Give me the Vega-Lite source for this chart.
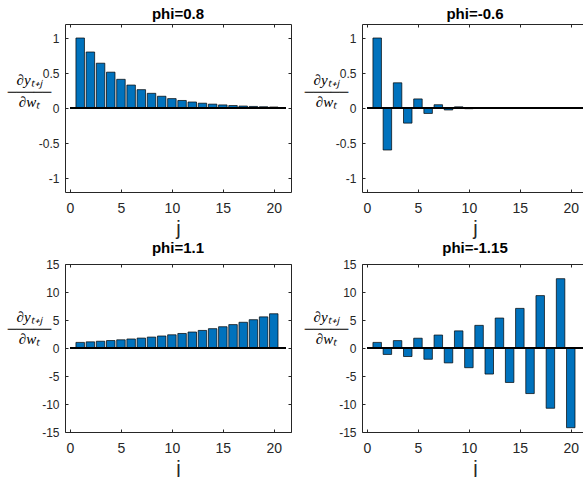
{
  "$schema": "https://vega.github.io/schema/vega-lite/v6.json",
  "padding": {"left": 6, "top": 6, "right": 0, "bottom": 0},
  "background": "#ffffff",
  "config": {
    "view": {"stroke": "#262626", "strokeWidth": 1},
    "axis": {"domain": false, "grid": false, "tickColor": "#262626", "tickSize": -3, "tickWidth": 1, "labelColor": "#262626", "labelFont": "Liberation Sans", "titleColor": "#262626", "titleFont": "Liberation Sans", "titleFontWeight": "normal"},
    "axisX": {"labelFontSize": 14, "labelPadding": 12, "labelBaseline": "top", "titleFontSize": 20, "titlePadding": 3},
    "axisY": {"labelFontSize": 12, "labelPadding": 9},
    "title": {"font": "Liberation Sans", "fontSize": 15, "fontWeight": "bold", "color": "#000000", "offset": 2, "anchor": "middle"}
  },
  "datasets": {
    "a": [{"j":1,"v":1},{"j":2,"v":0.8},{"j":3,"v":0.64},{"j":4,"v":0.512},{"j":5,"v":0.4096},{"j":6,"v":0.3277},{"j":7,"v":0.2621},{"j":8,"v":0.2097},{"j":9,"v":0.1678},{"j":10,"v":0.1342},{"j":11,"v":0.1074},{"j":12,"v":0.0859},{"j":13,"v":0.0687},{"j":14,"v":0.055},{"j":15,"v":0.044},{"j":16,"v":0.0352},{"j":17,"v":0.0281},{"j":18,"v":0.0225},{"j":19,"v":0.018},{"j":20,"v":0.0144}],
    "b": [{"j":1,"v":1},{"j":2,"v":-0.6},{"j":3,"v":0.36},{"j":4,"v":-0.216},{"j":5,"v":0.1296},{"j":6,"v":-0.0778},{"j":7,"v":0.0467},{"j":8,"v":-0.028},{"j":9,"v":0.0168},{"j":10,"v":-0.0101},{"j":11,"v":0.006},{"j":12,"v":-0.0036},{"j":13,"v":0.0022},{"j":14,"v":-0.0013},{"j":15,"v":0.0008},{"j":16,"v":-0.0005},{"j":17,"v":0.0003},{"j":18,"v":-0.0002},{"j":19,"v":0.0001},{"j":20,"v":-0.0001}],
    "c": [{"j":1,"v":1},{"j":2,"v":1.1},{"j":3,"v":1.21},{"j":4,"v":1.331},{"j":5,"v":1.4641},{"j":6,"v":1.6105},{"j":7,"v":1.7716},{"j":8,"v":1.9487},{"j":9,"v":2.1436},{"j":10,"v":2.3579},{"j":11,"v":2.5937},{"j":12,"v":2.8531},{"j":13,"v":3.1384},{"j":14,"v":3.4523},{"j":15,"v":3.7975},{"j":16,"v":4.1772},{"j":17,"v":4.595},{"j":18,"v":5.0545},{"j":19,"v":5.5599},{"j":20,"v":6.1159}],
    "d": [{"j":1,"v":1},{"j":2,"v":-1.15},{"j":3,"v":1.3225},{"j":4,"v":-1.5209},{"j":5,"v":1.749},{"j":6,"v":-2.0114},{"j":7,"v":2.3131},{"j":8,"v":-2.66},{"j":9,"v":3.059},{"j":10,"v":-3.5179},{"j":11,"v":4.0456},{"j":12,"v":-4.6524},{"j":13,"v":5.3503},{"j":14,"v":-6.1528},{"j":15,"v":7.0757},{"j":16,"v":-8.1371},{"j":17,"v":9.3576},{"j":18,"v":-10.7613},{"j":19,"v":12.3755},{"j":20,"v":-14.2318}]
  },
  "columns": 2,
  "spacing": {"row": 72, "column": 71},
  "bounds": "flush",
  "concat": [
    {
      "title": "phi=0.8", "width": 226, "height": 168, "data": {"name": "a"},
      "layer": [
        {"mark": {"type": "bar", "size": 8.5, "color": "#0072BD", "stroke": "#000000", "strokeWidth": 0.7},
         "encoding": {
           "x": {"field": "j", "type": "quantitative", "scale": {"domain": [0, 21.2], "nice": false, "zero": false}, "axis": {"orient": "bottom", "values": [0,5,10,15,20], "title": "j", "labelExpr": "''+datum.value"}},
           "y": {"field": "v", "type": "quantitative", "scale": {"domain": [-1.2, 1.2], "nice": false}, "axis": {"orient": "left", "values": [-1,-0.5,0,0.5,1], "labelExpr": "''+datum.value", "title": ["∂yₜ₊ⱼ", "∂wₜ"], "titleAngle": 0, "titleAlign": "center", "titleBaseline": "alphabetic", "titleX": -36, "titleY": 60, "titleFont": "Liberation Serif", "titleFontStyle": "italic", "titleFontSize": 15, "titleLineHeight": 22, "titleColor": "#000000"}}
         }},
        {"mark": {"type": "rule", "color": "#000000", "strokeWidth": 0.8},
         "encoding": {
           "x": {"datum": 0, "type": "quantitative", "scale": {"domain": [0, 21.2], "nice": false, "zero": false}, "axis": {"orient": "top", "values": [0,5,10,15,20], "labels": false, "title": null}},
           "x2": {"datum": 21.2},
           "y": {"datum": 0, "type": "quantitative", "scale": {"domain": [-1.2, 1.2], "nice": false}, "axis": {"orient": "right", "values": [-1,-0.5,0,0.5,1], "labels": false, "title": "─────", "titleAngle": 0, "titleAlign": "center", "titleBaseline": "alphabetic", "titleX": -262, "titleY": 72.5, "titleFont": "DejaVu Sans", "titleFontSize": 14.5, "titleColor": "#000000"}}
         }}
      ],
      "resolve": {"axis": {"x": "independent", "y": "independent"}}
    },
    {
      "title": "phi=-0.6", "width": 226, "height": 168, "data": {"name": "b"},
      "layer": [
        {"mark": {"type": "bar", "size": 8.5, "color": "#0072BD", "stroke": "#000000", "strokeWidth": 0.7},
         "encoding": {
           "x": {"field": "j", "type": "quantitative", "scale": {"domain": [0, 21.2], "nice": false, "zero": false}, "axis": {"orient": "bottom", "values": [0,5,10,15,20], "title": "j", "labelExpr": "''+datum.value"}},
           "y": {"field": "v", "type": "quantitative", "scale": {"domain": [-1.2, 1.2], "nice": false}, "axis": {"orient": "left", "values": [-1,-0.5,0,0.5,1], "labelExpr": "''+datum.value", "title": ["∂yₜ₊ⱼ", "∂wₜ"], "titleAngle": 0, "titleAlign": "center", "titleBaseline": "alphabetic", "titleX": -36, "titleY": 60, "titleFont": "Liberation Serif", "titleFontStyle": "italic", "titleFontSize": 15, "titleLineHeight": 22, "titleColor": "#000000"}}
         }},
        {"mark": {"type": "rule", "color": "#000000", "strokeWidth": 0.8},
         "encoding": {
           "x": {"datum": 0, "type": "quantitative", "scale": {"domain": [0, 21.2], "nice": false, "zero": false}, "axis": {"orient": "top", "values": [0,5,10,15,20], "labels": false, "title": null}},
           "x2": {"datum": 21.2},
           "y": {"datum": 0, "type": "quantitative", "scale": {"domain": [-1.2, 1.2], "nice": false}, "axis": {"orient": "right", "values": [-1,-0.5,0,0.5,1], "labels": false, "title": "─────", "titleAngle": 0, "titleAlign": "center", "titleBaseline": "alphabetic", "titleX": -262, "titleY": 72.5, "titleFont": "DejaVu Sans", "titleFontSize": 14.5, "titleColor": "#000000"}}
         }}
      ],
      "resolve": {"axis": {"x": "independent", "y": "independent"}}
    },
    {
      "title": "phi=1.1", "width": 226, "height": 168, "data": {"name": "c"},
      "layer": [
        {"mark": {"type": "bar", "size": 8.5, "color": "#0072BD", "stroke": "#000000", "strokeWidth": 0.7},
         "encoding": {
           "x": {"field": "j", "type": "quantitative", "scale": {"domain": [0, 21.2], "nice": false, "zero": false}, "axis": {"orient": "bottom", "values": [0,5,10,15,20], "title": "j", "labelExpr": "''+datum.value"}},
           "y": {"field": "v", "type": "quantitative", "scale": {"domain": [-15, 15], "nice": false}, "axis": {"orient": "left", "values": [-15,-10,-5,0,5,10,15], "labelExpr": "''+datum.value", "title": ["∂yₜ₊ⱼ", "∂wₜ"], "titleAngle": 0, "titleAlign": "center", "titleBaseline": "alphabetic", "titleX": -36, "titleY": 57, "titleFont": "Liberation Serif", "titleFontStyle": "italic", "titleFontSize": 15, "titleLineHeight": 22, "titleColor": "#000000"}}
         }},
        {"mark": {"type": "rule", "color": "#000000", "strokeWidth": 0.8},
         "encoding": {
           "x": {"datum": 0, "type": "quantitative", "scale": {"domain": [0, 21.2], "nice": false, "zero": false}, "axis": {"orient": "top", "values": [0,5,10,15,20], "labels": false, "title": null}},
           "x2": {"datum": 21.2},
           "y": {"datum": 0, "type": "quantitative", "scale": {"domain": [-15, 15], "nice": false}, "axis": {"orient": "right", "values": [-15,-10,-5,0,5,10,15], "labels": false, "title": "─────", "titleAngle": 0, "titleAlign": "center", "titleBaseline": "alphabetic", "titleX": -262, "titleY": 69.5, "titleFont": "DejaVu Sans", "titleFontSize": 14.5, "titleColor": "#000000"}}
         }}
      ],
      "resolve": {"axis": {"x": "independent", "y": "independent"}}
    },
    {
      "title": "phi=-1.15", "width": 226, "height": 168, "data": {"name": "d"},
      "layer": [
        {"mark": {"type": "bar", "size": 8.5, "color": "#0072BD", "stroke": "#000000", "strokeWidth": 0.7},
         "encoding": {
           "x": {"field": "j", "type": "quantitative", "scale": {"domain": [0, 21.2], "nice": false, "zero": false}, "axis": {"orient": "bottom", "values": [0,5,10,15,20], "title": "j", "labelExpr": "''+datum.value"}},
           "y": {"field": "v", "type": "quantitative", "scale": {"domain": [-15, 15], "nice": false}, "axis": {"orient": "left", "values": [-15,-10,-5,0,5,10,15], "labelExpr": "''+datum.value", "title": ["∂yₜ₊ⱼ", "∂wₜ"], "titleAngle": 0, "titleAlign": "center", "titleBaseline": "alphabetic", "titleX": -36, "titleY": 57, "titleFont": "Liberation Serif", "titleFontStyle": "italic", "titleFontSize": 15, "titleLineHeight": 22, "titleColor": "#000000"}}
         }},
        {"mark": {"type": "rule", "color": "#000000", "strokeWidth": 0.8},
         "encoding": {
           "x": {"datum": 0, "type": "quantitative", "scale": {"domain": [0, 21.2], "nice": false, "zero": false}, "axis": {"orient": "top", "values": [0,5,10,15,20], "labels": false, "title": null}},
           "x2": {"datum": 21.2},
           "y": {"datum": 0, "type": "quantitative", "scale": {"domain": [-15, 15], "nice": false}, "axis": {"orient": "right", "values": [-15,-10,-5,0,5,10,15], "labels": false, "title": "─────", "titleAngle": 0, "titleAlign": "center", "titleBaseline": "alphabetic", "titleX": -262, "titleY": 69.5, "titleFont": "DejaVu Sans", "titleFontSize": 14.5, "titleColor": "#000000"}}
         }}
      ],
      "resolve": {"axis": {"x": "independent", "y": "independent"}}
    }
  ]
}
